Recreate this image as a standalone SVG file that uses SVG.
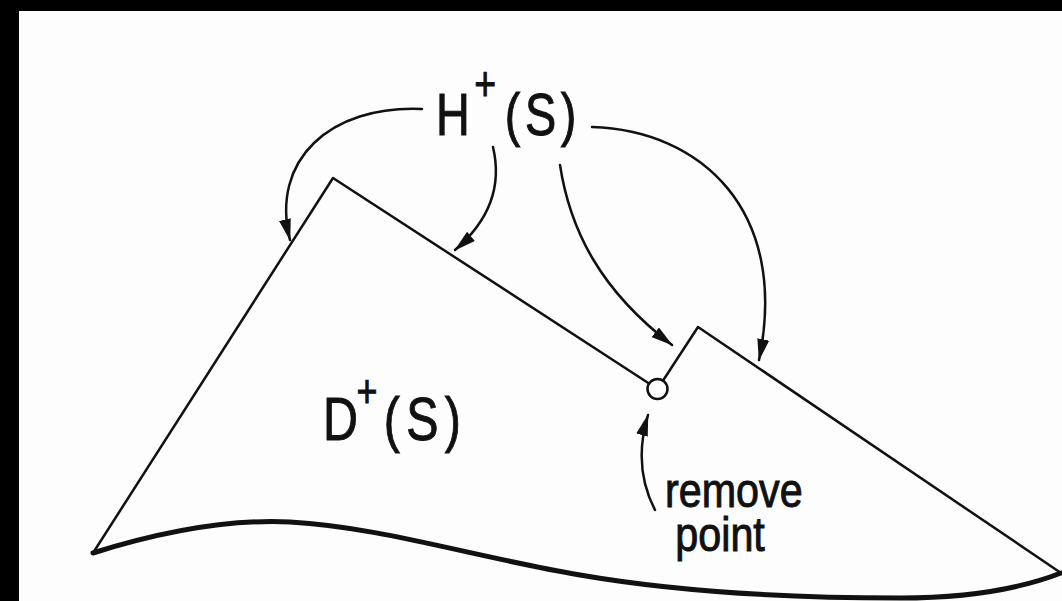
<svg xmlns="http://www.w3.org/2000/svg" width="1062" height="601" viewBox="0 0 1062 601">
<style>
.ln{fill:none;stroke:#111;stroke-width:2.5;stroke-linejoin:round;stroke-linecap:round}
.bot{fill:none;stroke:#111;stroke-width:5;stroke-linecap:round}
.ar{fill:none;stroke:#111;stroke-width:2.5;stroke-linecap:round;marker-end:url(#ah)}
.t{font-family:"Liberation Sans",Arial,sans-serif;fill:#111;stroke:#111;stroke-width:1}
</style>
<defs>
<marker id="ah" viewBox="0 0 22 12" refX="21" refY="6" markerWidth="22" markerHeight="12" markerUnits="userSpaceOnUse" orient="auto">
<path d="M0,0 L22,6 L0,12 z" fill="#111"/>
</marker>
</defs>
<rect width="1062" height="601" fill="#fdfdfd"/>
<rect x="0" y="0" width="1062" height="11" fill="#000"/>
<rect x="0" y="0" width="19" height="601" fill="#000"/>

<g id="region">
<path class="ln" d="M93,553 L333,178 L657.5,389 L698,327 L1061,573"/>
<path class="bot" d="M93,553 C160,532 230,519 290,522 C380,527 470,556 580,575 C690,594 800,598 900,598 C980,598 1030,585 1061,573"/>
</g>
<g id="point">
<circle cx="657.5" cy="389" r="10" fill="#fff" stroke="#111" stroke-width="2.5"/>
</g>

<g id="connectors">
<path class="ar" d="M422,109 C330,105 270,160 290,240"/>
<path class="ar" d="M493,147 C502,185 490,220 455,250"/>
<path class="ar" d="M560,165 C570,230 600,290 672,345"/>
<path class="ar" d="M592,127 C700,130 790,210 759,360"/>
<path class="ar" d="M655,510 C642,485 636,455 648,415"/>
</g>

<g id="label-H" transform="translate(436,135) scale(0.78,1)">
<text class="t" x="0" y="0" font-size="60">H<tspan x="49" dy="-35" font-size="48">+</tspan><tspan x="88" dy="35" letter-spacing="6">(S)</tspan></text>
</g>
<g id="label-D" transform="translate(323,440) scale(0.78,1)">
<text class="t" x="0" y="0" font-size="62">D<tspan x="43" dy="-33" font-size="46">+</tspan><tspan x="78" dy="33" letter-spacing="8">(S)</tspan></text>
</g>
<g id="label-remove-point" transform="translate(665,507) scale(0.86,1)">
<text class="t" x="0" y="0" font-size="48">remove<tspan x="12" dy="44">point</tspan></text>
</g>
</svg>
